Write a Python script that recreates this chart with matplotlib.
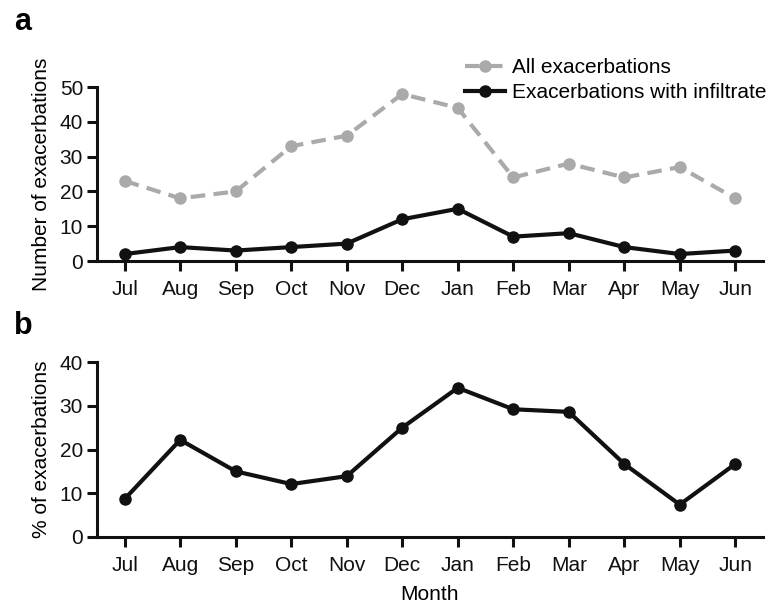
#!/usr/bin/env python

import numpy as np
import matplotlib.pyplot as plt

months = ["Jul", "Aug", "Sep", "Oct", "Nov", "Dec",
          "Jan", "Feb", "Mar", "Apr", "May", "Jun"]
all_exac = [23, 18, 20, 33, 36, 48, 44, 24, 28, 24, 27, 18]
infiltrate = [2, 4, 3, 4, 5, 12, 15, 7, 8, 4, 2, 3]
# percentage of exacerbations with infiltrate
pct = [8.7, 22.2, 15.0, 12.1, 13.9, 25.0, 34.1, 29.2, 28.6, 16.7, 7.4, 16.7]

GREY = "#aaaaaa"
BLACK = "#111111"
FS = 15

plt.rcParams["font.family"] = ["Liberation Sans", "DejaVu Sans"]
plt.rcParams["font.size"] = FS


def style_axes(ax):
    for side in ("top", "right"):
        ax.spines[side].set_visible(False)
    for side in ("left", "bottom"):
        ax.spines[side].set_linewidth(2.2)
        ax.spines[side].set_color(BLACK)
    ax.tick_params(width=2.2, length=7, colors=BLACK, labelsize=FS, pad=3)
    ax.set_xticks(np.arange(len(months)))
    ax.set_xticklabels(months)
    ax.set_xlim(-0.5, 11.5)
    ax.tick_params(axis="x", pad=7)


fig = plt.figure(figsize=(7.74, 6.06), dpi=100)
ax1 = fig.add_axes([0.1253, 0.5693, 0.8605, 0.2871])
ax2 = fig.add_axes([0.1253, 0.1139, 0.8605, 0.2887])

x = np.arange(len(months))
ax1.plot(x, all_exac, color=GREY, lw=3, ls=(0, (3.5, 2)), marker="o", ms=8,
         label="All exacerbations", clip_on=False)
ax1.plot(x, infiltrate, color=BLACK, lw=3, marker="o", ms=8,
         label="Exacerbations with infiltrate", clip_on=False)
ax1.set_ylim(0, 50)
ax1.set_yticks([0, 10, 20, 30, 40, 50])
ax1.set_ylabel("Number of exacerbations", labelpad=6)
style_axes(ax1)
ax1.legend(loc="center left", bbox_to_anchor=(0.59, 0.868),
           bbox_transform=fig.transFigure, borderaxespad=0, frameon=False,
           handlelength=1.9, handletextpad=0.35, labelspacing=0.3,
           fontsize=FS)

ax2.plot(x, pct, color=BLACK, lw=3, marker="o", ms=8, clip_on=False)
ax2.set_ylim(0, 40)
ax2.set_yticks([0, 10, 20, 30, 40])
ax2.set_ylabel("% of exacerbations", labelpad=6)
ax2.set_xlabel("Month", labelpad=7)
style_axes(ax2)

fig.text(0.018, 0.963, "a", fontsize=22, fontweight="bold", va="center")
fig.text(0.018, 0.462, "b", fontsize=22, fontweight="bold", va="center")

fig.savefig("out.png", dpi=100)
